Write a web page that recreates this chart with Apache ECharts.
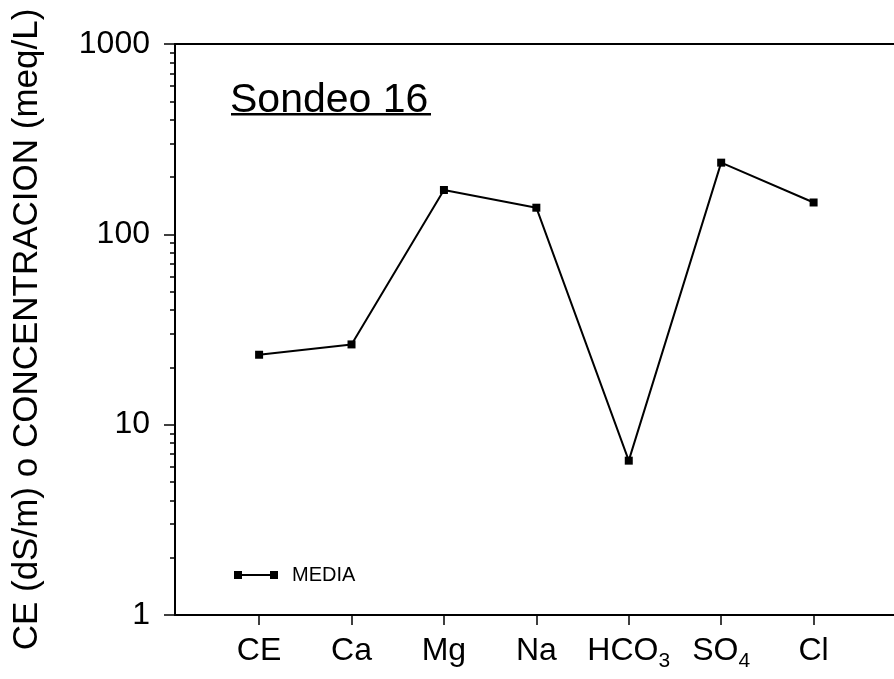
<!DOCTYPE html>
<html><head><meta charset="utf-8">
<script src="https://cdn.jsdelivr.net/npm/echarts@6/dist/echarts.min.js"></script>
<style>html,body{margin:0;padding:0;background:#fff}#c{width:894px;height:679px}</style>
</head><body><div id="c"></div>
<script>
// ---- data ----
const categories = ['CE', 'Ca', 'Mg', 'Na', 'HCO3', 'SO4', 'Cl'];
const categoryLabels = ['CE', 'Ca', 'Mg', 'Na', 'HCO{sub|3}', 'SO{sub|4}', 'Cl'];
const media = [23.3, 26.4, 171, 138, 6.47, 238, 147];
const yMajorTicks = [1, 10, 100, 1000];
const yMinorTicks = [2, 3, 4, 5, 6, 7, 8, 9, 20, 30, 40, 50, 60, 70, 80, 90, 200, 300, 400, 500, 600, 700, 800, 900];
const seriesName = 'MEDIA';
const chartTitle = 'Sondeo 16';
const yTitle = 'CE (dS/m) o CONCENTRACION (meq/L)';

// ---- chart ----
const FONT = '"Liberation Sans", Arial, Helvetica, sans-serif';
const positions = categories.map((c, i) => i + 1);
const chart = echarts.init(document.getElementById('c'));
const axisLine = { show: true, lineStyle: { color: '#000', width: 2 } };
const xMin = 0.09, xMax = 7.87;

chart.setOption({
  animation: false,
  backgroundColor: '#fff',
  textStyle: { fontFamily: FONT, color: '#000' },
  grid: { left: 175, right: 0, top: 44, bottom: 64, containLabel: false, outerBoundsMode: 'none' },
  graphic: [
    {
      type: 'text', left: 230, top: 80,
      style: { text: chartTitle, font: '41px ' + FONT, fill: '#000' }
    },
    {
      type: 'rect', shape: { x: 231, y: 113, width: 200, height: 2.5 },
      style: { fill: '#000' }
    }
  ],
  legend: {
    left: 229, top: 560,
    data: [seriesName],
    icon: 'path://M0,0h8v8h-8zM36,0h8v8h-8zM8,3.1h28v1.8h-28z',
    itemWidth: 44, itemHeight: 8,
    textStyle: { fontSize: 20, color: '#000', fontFamily: FONT, padding: [0, 0, 0, 9] }
  },
  xAxis: [
    {
      type: 'value', min: xMin, max: xMax, position: 'bottom',
      axisLine: axisLine,
      splitLine: { show: false },
      axisTick: { customValues: positions, length: 10, lineStyle: { color: '#000', width: 1.5 } },
      axisLabel: {
        customValues: positions,
        formatter: v => categoryLabels[Math.round(v) - 1],
        fontSize: 32, color: '#000', fontFamily: FONT, margin: 20,
        rich: { sub: { fontSize: 21, lineHeight: 12, padding: [20, 0, 0, 0], fontFamily: FONT, color: '#000' } }
      }
    },
    {
      type: 'value', min: xMin, max: xMax, position: 'top',
      axisLine: axisLine,
      splitLine: { show: false },
      axisTick: { show: false },
      axisLabel: { show: false }
    }
  ],
  yAxis: [
    {
      type: 'log', logBase: 10, min: yMajorTicks[0], max: yMajorTicks[yMajorTicks.length - 1],
      position: 'left',
      axisLine: axisLine,
      splitLine: { show: false },
      axisTick: { inside: false, length: 11, lineStyle: { color: '#000', width: 1.5 } },
      axisLabel: { fontSize: 32, color: '#000', fontFamily: FONT, margin: 25, formatter: v => String(v) },
      name: yTitle, nameLocation: 'middle', nameRotate: 90, nameGap: 130,
      nameTextStyle: { fontSize: 35, color: '#000', fontFamily: FONT }
    },
    {
      type: 'value', min: 0, max: 3, position: 'left',
      axisLine: { show: false },
      splitLine: { show: false },
      axisLabel: { show: false },
      axisTick: {
        customValues: yMinorTicks.map(v => Math.log10(v)),
        inside: false, length: 5, lineStyle: { color: '#000', width: 1.5 }
      }
    }
  ],
  series: [
    {
      name: seriesName, type: 'line',
      xAxisIndex: 0, yAxisIndex: 0,
      data: categories.map((c, i) => [positions[i], media[i]]),
      symbol: 'rect', symbolSize: 8,
      itemStyle: { color: '#000' },
      lineStyle: { color: '#000', width: 2 }
    }
  ]
});
</script>
</body></html>
